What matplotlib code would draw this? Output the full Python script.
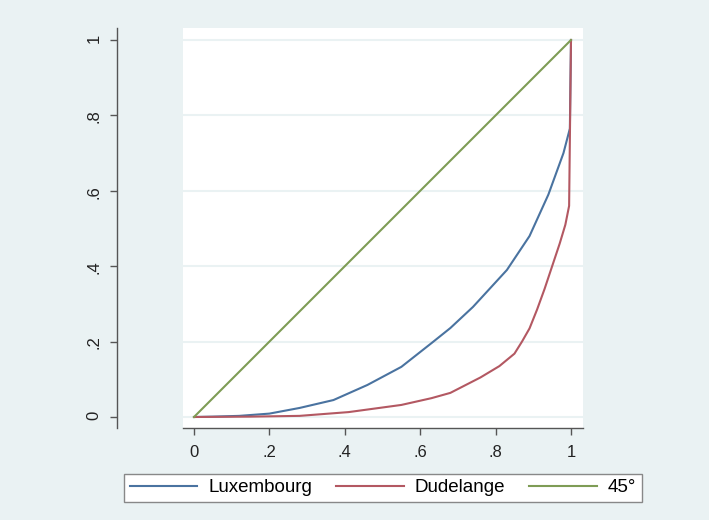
import matplotlib
matplotlib.use("Agg")
import matplotlib.pyplot as plt

# Lorenz curves
lux_x = [0, 0.05, 0.12, 0.2, 0.28, 0.37, 0.46, 0.55, 0.63, 0.68, 0.74, 0.83, 0.89, 0.94, 0.98, 0.997, 1.0]
lux_y = [0, 0.001, 0.003, 0.009, 0.024, 0.045, 0.085, 0.133, 0.196, 0.236, 0.292, 0.39, 0.48, 0.59, 0.70, 0.765, 1.0]

dud_x = [0, 0.15, 0.28, 0.41, 0.55, 0.63, 0.68, 0.76, 0.81, 0.85, 0.87, 0.89, 0.91, 0.93, 0.95, 0.97, 0.985, 0.995, 1.0]
dud_y = [0, 0.001, 0.003, 0.013, 0.032, 0.05, 0.064, 0.105, 0.135, 0.168, 0.20, 0.235, 0.285, 0.34, 0.40, 0.46, 0.51, 0.56, 1.0]

diag = [0, 1]

ticks = [0, 0.2, 0.4, 0.6, 0.8, 1]
tick_labels = ["0", ".2", ".4", ".6", ".8", "1"]

plt.rcParams['font.family'] = ['Liberation Sans', 'DejaVu Sans']

bg = "#eaf2f3"
fig = plt.figure(figsize=(7.09, 5.20), dpi=100, facecolor=bg)
ax = fig.add_axes([183/709, 1 - 428/520, 400/709, 400/520])
ax.set_facecolor("white")

ax.plot(lux_x, lux_y, color="#4a73a0", lw=1.5, label="Luxembourg")
ax.plot(dud_x, dud_y, color="#b35862", lw=1.5, label="Dudelange")
ax.plot(diag, diag, color="#7e9c55", lw=1.5, label="45°")

ax.set_xlim(-11/377, 1 + 12/377)
ax.set_ylim(-11/377, 1 + 12/377)

ax.set_xticks(ticks)
ax.set_xticklabels(tick_labels)
ax.set_yticks(ticks)
ax.set_yticklabels(tick_labels, va="center")
ax.yaxis.grid(True, color=bg, lw=1.5)
ax.set_axisbelow(True)

for s in ["top", "right"]:
    ax.spines[s].set_visible(False)
ax.spines["left"].set_position(("outward", 66 * 0.72))
for s in ["left", "bottom"]:
    ax.spines[s].set_color("#555555")
    ax.spines[s].set_linewidth(1.0)
ax.tick_params(length=5, width=1, color="#555555", labelsize=12, labelcolor="#222222")
ax.tick_params(axis="y", labelrotation=90, pad=6)
ax.tick_params(axis="x", pad=7)

fig.legend(loc="lower left", bbox_to_anchor=(124/709, 18/520, 518/709, 34/520),
           mode="expand", ncol=3, fontsize=13.5, handlelength=3.6, handletextpad=0.6,
           fancybox=False, edgecolor="#888888", framealpha=1, borderaxespad=0,
           borderpad=0.3)

fig.savefig("out.png", dpi=100, facecolor=bg)
